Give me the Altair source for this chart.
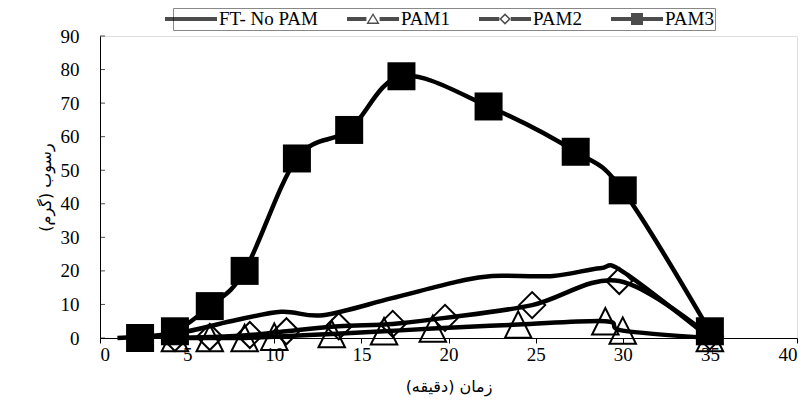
import altair as alt
import pandas as pd

# ---- data ----
series_names = ["FT- No PAM", "PAM1", "PAM2", "PAM3"]

ft_x = [1.0, 4.5, 7.5, 10.4, 12.8, 16.7, 20.5, 22.5, 26.0, 28.7, 30.0, 35.0]
ft_y = [0.0, 1.5, 5.0, 7.8, 6.8, 11.8, 16.8, 18.5, 18.5, 20.8, 19.8, 0.0]

pam1_x = [4.3, 6.3, 8.3, 10.0, 13.3, 16.3, 19.1, 24.0, 29.0, 30.0, 35.0]
pam1_y = [0.0, 0.0, 0.0, 0.4, 1.2, 2.0, 2.8, 4.0, 5.0, 2.2, 0.0]

pam2_x = [4.3, 6.3, 8.6, 10.7, 13.7, 16.8, 19.8, 24.8, 29.8, 35.0]
pam2_y = [0.0, 0.3, 0.9, 2.0, 3.5, 4.2, 6.0, 9.8, 17.0, 0.5]

pam3_x = [2.3, 4.3, 6.3, 8.3, 11.3, 14.3, 17.3, 22.3, 27.3, 30.0, 35.0]
pam3_y = [0.0, 2.0, 9.5, 20.0, 53.5, 62.0, 78.0, 69.0, 55.5, 44.0, 2.0]

x_ticks = [0, 5, 10, 15, 20, 25, 30, 35, 40]
y_ticks = [0, 10, 20, 30, 40, 50, 60, 70, 80, 90]

x_title = "زمان (دقیقه)"
y_title = "رسوب (گرم)"

frames = []
for name, xs, ys in [
    (series_names[0], ft_x, ft_y),
    (series_names[1], pam1_x, pam1_y),
    (series_names[2], pam2_x, pam2_y),
    (series_names[3], pam3_x, pam3_y),
]:
    frames.append(pd.DataFrame({"series": name, "t": xs, "v": ys, "order": range(len(xs))}))
df = pd.concat(frames, ignore_index=True)
ticks_df = pd.DataFrame({"v": y_ticks})

SERIF = "Liberation Serif, Times New Roman, Tinos, DejaVu Serif, serif"
TFONT = "DejaVu Sans"

xscale = alt.Scale(domain=[0, 40], nice=False)
yscale = alt.Scale(domain=[0, 90], nice=False)

x_enc = alt.X("t:Q", scale=xscale,
              axis=alt.Axis(values=x_ticks, title=x_title, grid=False, tickSize=5,
                            tickColor="black", domainColor="black", labelColor="black",
                            labelFont=SERIF, labelFontSize=19, labelPadding=2,
                            labelOverlap=False,
                            titleFont=TFONT, titleFontSize=16, titleFontWeight="normal",
                            titleColor="black", titlePadding=14))
y_enc = alt.Y("v:Q", scale=yscale,
              axis=alt.Axis(values=y_ticks, title=y_title, grid=False, tickSize=0,
                            domainColor="black", labelColor="black",
                            labelFont=SERIF, labelFontSize=19, labelPadding=21,
                            labelOverlap=False,
                            titleFont=TFONT, titleFontSize=16, titleFontWeight="normal",
                            titleColor="black", titlePadding=7))
x_plain = alt.X("t:Q", scale=xscale, axis=None)
y_plain = alt.Y("v:Q", scale=yscale, axis=None)

lines = alt.Chart(df).mark_line(interpolate="cardinal", strokeWidth=4.5, color="black").encode(
    x=x_enc, y=y_enc, detail="series:N", order="order:Q"
)

# inward y-axis ticks, placed at the axis (x = 0) on the tick values
tick_layer = alt.Chart(ticks_df).mark_tick(
    orient="horizontal", size=5, thickness=1, color="black", xOffset=2.5
).encode(x=alt.datum(0, scale=xscale, axis=None), y=y_plain)

tri_path = "M0,-1L1,1L-1,1Z"

p1 = alt.Chart(df).transform_filter(alt.datum.series == "PAM1").mark_point(
    shape=tri_path, size=700, filled=False, color="black", strokeWidth=2, opacity=1
).encode(x=x_plain, y=y_plain)

p2 = alt.Chart(df).transform_filter(alt.datum.series == "PAM2").mark_point(
    shape="diamond", size=680, filled=False, color="black", strokeWidth=2, opacity=1
).encode(x=x_plain, y=y_plain)

p3 = alt.Chart(df).transform_filter(alt.datum.series == "PAM3").mark_point(
    shape="square", size=784, filled=True, color="black", opacity=1
).encode(x=x_plain, y=y_plain)

# legend symbols: line + marker in one path (units of 10 px; line spans 52 px)
leg_ft = "M-2.6,-0.2H2.6V0.2H-2.6Z"
leg_p1 = ("M-2.6,-0.2H-0.66V0.2H-2.6Z M0.66,-0.2H2.6V0.2H0.66Z "
          "M0,-0.6L0.66,0.5L-0.66,0.5Z M0,-0.36L-0.42,0.36L0.42,0.36Z")
leg_p2 = ("M-2.6,-0.2H-0.57V0.2H-2.6Z M0.57,-0.2H2.6V0.2H0.57Z "
          "M0,-0.57L0.57,0L0,0.57L-0.57,0Z M0,-0.36L-0.36,0L0,0.36L0.36,0Z")
leg_p3 = "M-2.6,-0.2H2.6V0.2H-2.6Z M-0.6,-0.6H0.6V0.6H-0.6Z"

legend_layer = alt.Chart(df).transform_filter("false").mark_point(
    filled=True, color="black", size=400
).encode(
    x=x_plain, y=y_plain,
    shape=alt.Shape("series:N",
                    scale=alt.Scale(domain=series_names, range=[leg_ft, leg_p1, leg_p2, leg_p3]),
                    legend=alt.Legend(title=None, orient="none", direction="horizontal",
                                      legendX=73, legendY=-28, symbolSize=400,
                                      symbolStrokeWidth=0, symbolFillColor="black",
                                      symbolOffset=7,
                                      labelFont=SERIF, labelFontSize=19, labelColor="black",
                                      labelOffset=18, columnPadding=29,
                                      strokeColor="#888888", padding=1))
)

chart = alt.layer(lines, tick_layer, p1, p2, p3, legend_layer).resolve_axis(
    x="independent", y="independent"
).properties(
    width=697, height=302,
    autosize=alt.AutoSizeParams(type="none"),
    padding={"left": 92, "top": 28, "right": 3, "bottom": 59},
).configure_view(stroke=None).configure(background="white")

chart.save("out.html", embed_options={"renderer": "svg", "actions": False})
